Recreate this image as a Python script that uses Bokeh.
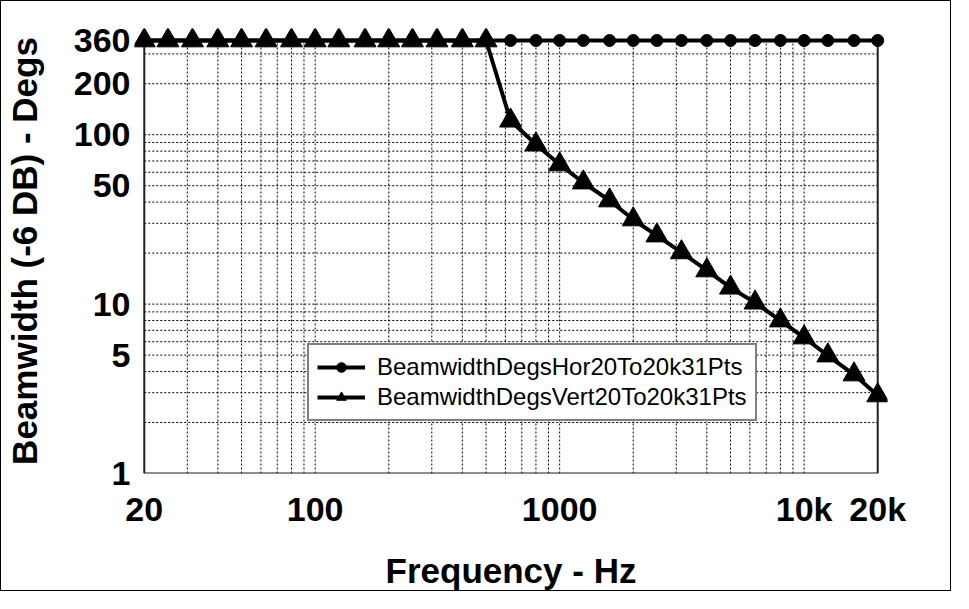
from bokeh.plotting import figure
from bokeh.models import FixedTicker, Range1d, Legend, LegendItem
from bokeh.embed import file_html
from bokeh.resources import INLINE

# ---- data ----
FREQ = [20, 25, 31.5, 40, 50, 63, 80, 100, 125, 160, 200, 250, 315, 400, 500,
        630, 800, 1000, 1250, 1600, 2000, 2500, 3150, 4000, 5000, 6300, 8000,
        10000, 12500, 16000, 20000]
HOR = [360, 360, 360, 360, 360, 360, 360, 360, 360, 360, 360, 360, 360, 360, 360,
       360, 360, 360, 360, 360, 360, 360, 360, 360, 360, 360, 360, 360, 360, 360, 360]
VERT = [360, 360, 360, 360, 360, 360, 360, 360, 360, 360, 360, 360, 360, 360, 360,
        121, 87.5, 66.7, 52.2, 40.9, 31.6, 25.4, 20.2, 15.8, 12.5, 10.2, 8.0,
        6.35, 4.97, 3.84, 2.89]
HOR_NAME = "BeamwidthDegsHor20To20k31Pts"
VERT_NAME = "BeamwidthDegsVert20To20k31Pts"

X_TICKS = [20, 100, 1000, 10000, 20000]
X_LABELS = ["20", "100", "1000", "10k", "20k"]
Y_TICKS = [1, 5, 10, 50, 100, 200, 360]
Y_LABELS = ["1", "5", "10", "50", "100", "200", "360"]

GRID_X = [30, 40, 50, 60, 70, 80, 90, 100, 200, 300, 400, 500, 600, 700, 800, 900,
          1000, 2000, 3000, 4000, 5000, 6000, 7000, 8000, 9000, 10000]
GRID_Y = [2, 3, 4, 5, 6, 7, 8, 9, 10, 20, 30, 40, 50, 60, 70, 80, 90, 100, 200, 300]

X_MIN, X_MAX = 20, 20000
Y_MIN, Y_MAX = 1, 360

# small room around the data so markers at the edges are not clipped
PAD_X = 10 ** 0.04
PAD_Y = 10 ** 0.0708

p = figure(width=951, height=591, x_axis_type="log", y_axis_type="log",
           x_range=Range1d(X_MIN / PAD_X, X_MAX * PAD_X),
           y_range=Range1d(Y_MIN, Y_MAX * PAD_Y),
           output_backend="svg", toolbar_location=None,
           min_border_left=131, min_border_right=65,
           min_border_top=27, min_border_bottom=119,
           background_fill_color="white", border_fill_color="white")
p.styles = {"border": "1px solid black"}
p.outline_line_color = None
p.xgrid.visible = False
p.ygrid.visible = False

# dotted grid
for gx in GRID_X:
    p.segment(x0=gx, y0=Y_MIN, x1=gx, y1=Y_MAX, line_color="black",
              line_width=1, line_dash="2 2")
for gy in GRID_Y:
    p.segment(x0=X_MIN, y0=gy, x1=X_MAX, y1=gy, line_color="black",
              line_width=1, line_dash="2 2")

# plot frame (left, bottom, right)
p.segment(x0=[X_MIN, X_MIN, X_MAX], y0=[Y_MIN, Y_MIN, Y_MIN],
          x1=[X_MIN, X_MAX, X_MAX], y1=[Y_MAX, Y_MIN, Y_MAX],
          line_color="#202020", line_width=2)

# series
hl = p.line(FREQ, HOR, line_color="black", line_width=4)
hm = p.scatter(FREQ, HOR, marker="circle", size=12, fill_color="black",
               line_color="black")
vl = p.line(FREQ, VERT, line_color="black", line_width=4)
vm = p.scatter(FREQ, VERT, marker="triangle", size=22, fill_color="black",
               line_color="black")

legend = Legend(items=[LegendItem(label=HOR_NAME, renderers=[hl, hm]),
                       LegendItem(label=VERT_NAME, renderers=[vl, vm])],
                location=(173, 52), margin=0, padding=8, spacing=2,
                glyph_width=48, glyph_height=24, label_height=24,
                label_standoff=12,
                label_text_font="Liberation Sans", label_text_font_size="24px",
                label_text_color="black",
                border_line_color="black", border_line_width=2,
                background_fill_color="white", background_fill_alpha=1)
p.add_layout(legend, "center")

for ax in (p.xaxis, p.yaxis):
    ax.axis_line_color = None
    ax.major_tick_line_color = None
    ax.minor_tick_line_color = None
    ax.major_tick_out = 0
    ax.major_tick_in = 0
    ax.major_label_text_font = "Liberation Sans"
    ax.major_label_text_font_style = "bold"
    ax.major_label_text_font_size = "34px"
    ax.major_label_text_color = "black"
    ax.axis_label_text_font = "Liberation Sans"
    ax.axis_label_text_font_style = "bold"
    ax.axis_label_text_font_size = "35px"
    ax.axis_label_text_color = "black"

p.xaxis.ticker = FixedTicker(ticks=X_TICKS)
p.xaxis.major_label_overrides = {t: l for t, l in zip(X_TICKS, X_LABELS)}
p.yaxis.ticker = FixedTicker(ticks=Y_TICKS)
p.yaxis.major_label_overrides = {t: l for t, l in zip(Y_TICKS, Y_LABELS)}

p.xaxis.axis_label = "Frequency - Hz"
p.yaxis.axis_label = "Beamwidth (-6 DB) - Degs"
p.xaxis.major_label_standoff = 16
p.xaxis.axis_label_standoff = 20
p.yaxis.major_label_standoff = 4
p.yaxis.axis_label_standoff = 27

open("out.html", "w").write(file_html(p, INLINE))
